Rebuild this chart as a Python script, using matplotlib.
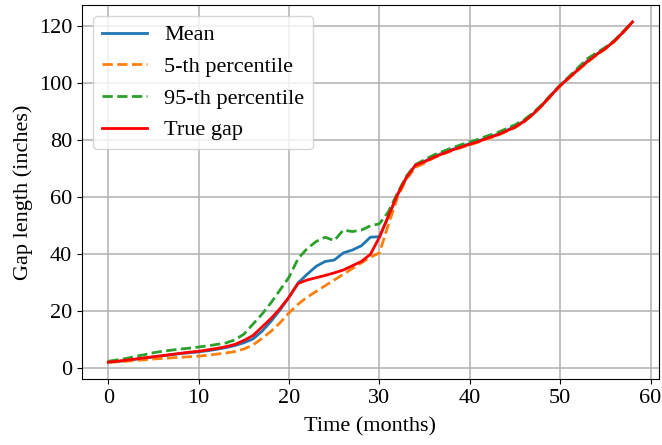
import matplotlib
matplotlib.use('Agg')
import matplotlib.pyplot as plt
import numpy as np

# Monthly values (inches)
months = np.arange(59)

true_gap = [2.2, 2.5, 2.9, 3.3, 3.7, 4.1, 4.5, 4.9, 5.3, 5.7,
            6.0, 6.5, 7.0, 7.6, 8.4, 9.8, 11.5, 14.5, 17.5, 21.0,
            25.0, 29.8, 31.0, 31.8, 32.6, 33.5, 34.5, 36.0, 37.5, 40.0,
            46.0, 53.5, 61.0, 67.0, 71.3, 72.5, 74.0, 75.3, 76.5, 77.6,
            78.6, 79.6, 80.8, 81.8, 83.2, 84.6, 86.6, 89.2, 92.3, 95.8,
            99.2, 102.0, 104.8, 107.5, 110.0, 112.2, 114.8, 118.0, 121.5]

mean_gap = [2.2, 2.4, 2.8, 3.2, 3.6, 4.0, 4.4, 4.8, 5.2, 5.5,
            5.8, 6.2, 6.7, 7.3, 8.0, 9.0, 10.3, 13.0, 16.5, 20.5,
            25.0, 30.0, 33.0, 35.8, 37.5, 38.0, 40.5, 41.5, 43.0, 46.0,
            46.2, 53.3, 60.8, 67.0, 71.3, 72.6, 74.2, 75.5, 76.7, 77.8,
            78.8, 79.8, 81.0, 82.0, 83.4, 84.8, 86.7, 89.2, 92.3, 95.8,
            99.2, 102.0, 104.9, 107.8, 110.1, 112.2, 114.8, 118.0, 121.5]

p5_gap = [2.2, 2.3, 2.5, 2.8, 3.0, 3.3, 3.5, 3.7, 3.9, 4.1,
          4.3, 4.6, 5.0, 5.4, 5.9, 6.8, 8.2, 10.5, 13.0, 16.0,
          19.5, 22.5, 25.0, 27.0, 29.0, 31.0, 33.0, 35.0, 37.0, 39.0,
          40.5, 50.5, 60.0, 66.5, 70.5, 72.0, 73.8, 75.1, 76.3, 77.4,
          78.4, 79.4, 80.6, 81.6, 83.0, 84.4, 86.4, 89.0, 92.1, 95.6,
          99.0, 101.8, 104.6, 107.3, 109.8, 112.0, 114.6, 117.8, 121.5]

p95_gap = [2.5, 3.0, 3.5, 4.2, 4.8, 5.5, 6.0, 6.4, 6.8, 7.1,
           7.5, 7.9, 8.4, 8.9, 10.0, 12.0, 15.5, 19.0, 23.0, 27.5,
           32.0, 38.5, 42.0, 44.5, 46.0, 44.8, 48.5, 48.0, 48.5, 50.0,
           50.7, 55.0, 61.5, 67.5, 71.5, 73.2, 74.8, 76.1, 77.3, 78.4,
           79.4, 80.4, 81.6, 82.6, 84.0, 85.4, 87.2, 89.6, 92.6, 96.0,
           99.4, 102.4, 105.5, 108.6, 110.6, 112.6, 115.0, 118.2, 121.5]

plt.rcParams['font.family'] = ['Liberation Serif', 'DejaVu Serif']
plt.rcParams['font.size'] = 16

fig = plt.figure(figsize=(6.62, 4.45), dpi=100)
ax = fig.add_axes([0.124, 0.148, 0.871, 0.841])

ax.plot(months, mean_gap, '-', color='#1f77b4', lw=2.0, label='Mean')
ax.plot(months, p5_gap, '--', color='#ff7f0e', lw=2.0, label='5-th percentile')
ax.plot(months, p95_gap, '--', color='#2ca02c', lw=2.0, label='95-th percentile')
ax.plot(months, true_gap, '-', color='red', lw=2.0, label='True gap')

ax.set_xticks(np.arange(0, 61, 10))
ax.set_yticks(np.arange(0, 121, 20))
ax.grid(True, color='#b0b0b0', lw=1.1)
ax.set_xlabel('Time (months)', labelpad=7)
ax.set_ylabel('Gap length (inches)', labelpad=4)
ax.legend(loc='upper left')

fig.savefig('out.png', dpi=100)
